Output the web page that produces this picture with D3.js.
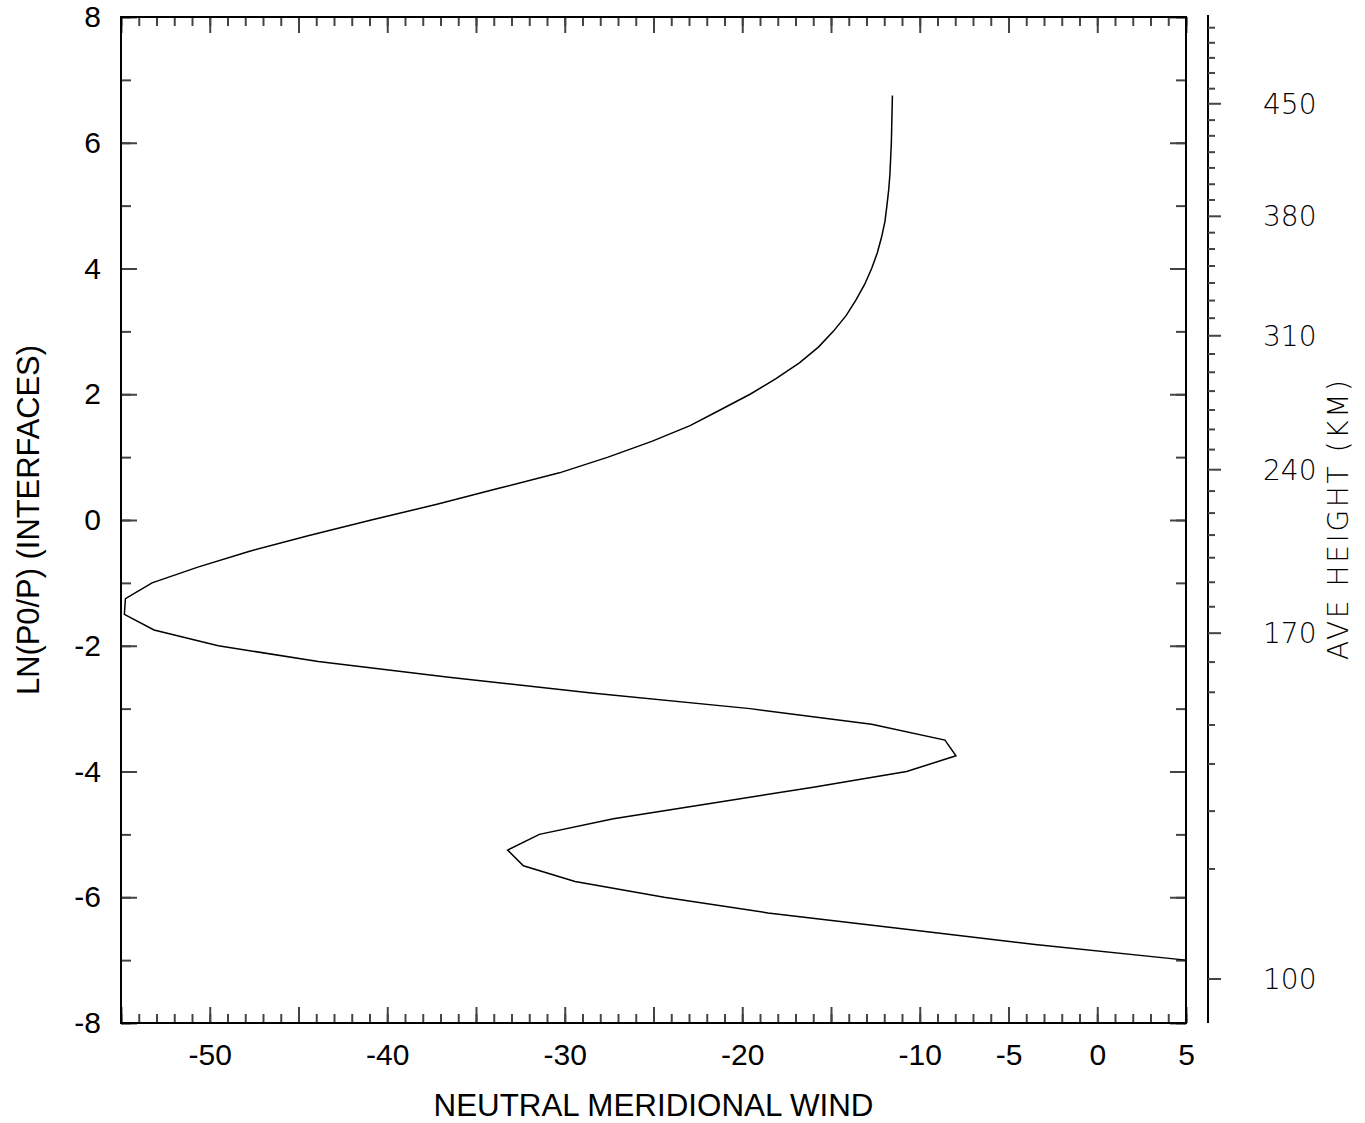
<!DOCTYPE html>
<html>
<head>
<meta charset="utf-8">
<script src="https://cdn.jsdelivr.net/npm/d3@7"></script>
<style>
  html, body { margin: 0; padding: 0; background: #fff; }
  svg { display: block; }
</style>
</head>
<body>
<svg id="chart" width="1365" height="1123"></svg>
<script>
// ---- data ----
const lnP = [-7.00,-6.75,-6.50,-6.25,-6.00,-5.75,-5.50,-5.25,-5.00,-4.75,-4.50,-4.25,-4.00,-3.75,-3.50,-3.25,
  -3.00,-2.75,-2.50,-2.25,-2.00,-1.75,-1.50,-1.25,-1.00,-0.75,-0.50,-0.25,0.00,0.25,0.50,0.75,
  1.00,1.25,1.50,1.75,2.00,2.25,2.50,2.75,3.00,3.25,3.50,3.75,4.00,4.25,4.50,4.75,
  5.00,5.25,5.50,5.75,6.00,6.25,6.50,6.75];
const windValues = [5.0,-3.5,-11.0,-18.55,-24.4,-29.42,-32.33,-33.22,-31.43,-27.26,-21.63,-16.0,-10.74,-7.96,-8.58,-12.71,
  -19.56,-28.49,-36.53,-43.89,-49.52,-53.14,-54.81,-54.75,-53.25,-50.67,-47.8,-44.46,-40.9,-37.2,-33.77,-30.3,
  -27.56,-25.1,-22.94,-21.25,-19.56,-18.1,-16.78,-15.71,-14.87,-14.15,-13.59,-13.1,-12.71,-12.39,-12.15,-11.96,
  -11.85,-11.75,-11.68,-11.64,-11.60,-11.58,-11.56,-11.54];

const xTickLabels = [-50,-40,-30,-20,-10,-5,0,5];
const xMinorTicks = d3.range(-55, 6, 1);
const xMajorTicks = d3.range(-55, 6, 5);
const yTickLabels = [-8,-6,-4,-2,0,2,4,6,8];
const yMinorTicks = d3.range(-8, 9, 1);

// right axis: average height (km) and its ln(p0/p) position
const heightTicks = [100,110,120,130,140,150,160,170,180,190,200,210,220,230,240,250,260,270,280,290,300,
  310,320,330,340,350,360,370,380,390,400,410,420,430,440,450,460,470,480,490,500];
const heightLnP = [-7.30,-5.55,-4.63,-3.88,-3.26,-2.74,-2.26,-1.80,-1.38,-0.99,-0.60,-0.24,0.11,0.46,0.80,1.12,1.44,1.75,2.05,2.35,2.64,
  2.93,3.21,3.49,3.77,4.04,4.31,4.57,4.83,5.09,5.34,5.60,5.85,6.11,6.36,6.62,6.86,7.11,7.35,7.59,7.83];
const heightLabels = [100,170,240,310,380,450];

const xTitle = "NEUTRAL MERIDIONAL WIND";
const yTitle = "LN(P0/P) (INTERFACES)";
const rTitle = "AVE HEIGHT (KM)";

// ---- layout ----
const L = 121, R = 1186, T = 17, B = 1023;
const svg = d3.select("#chart");
const x = d3.scaleLinear().domain([-55, 5]).range([L, R]);
const y = d3.scaleLinear().domain([-8, 8]).range([B, T]);

const sansFont = "'Liberation Sans', Arial, Helvetica, sans-serif";
const thinFont = "'DejaVu Sans', sans-serif";
const tickColor = "#444";
const fmt = d => String(d);

function styleTicks(g) {
  g.select(".domain").remove();
  g.selectAll(".tick line").attr("stroke", tickColor).attr("stroke-width", 2);
}

// bottom / top ticks
svg.append("g").attr("transform", `translate(0,${B})`)
  .call(d3.axisBottom(x).tickValues(xMinorTicks).tickSize(-9).tickFormat(""))
  .call(styleTicks);
svg.append("g").attr("transform", `translate(0,${B})`)
  .call(d3.axisBottom(x).tickValues(xMajorTicks).tickSize(-16).tickFormat(""))
  .call(styleTicks);
svg.append("g").attr("transform", `translate(0,${T})`)
  .call(d3.axisTop(x).tickValues(xMinorTicks).tickSize(-9).tickFormat(""))
  .call(styleTicks);
svg.append("g").attr("transform", `translate(0,${T})`)
  .call(d3.axisTop(x).tickValues(xMajorTicks).tickSize(-16).tickFormat(""))
  .call(styleTicks);

// left / right frame ticks
svg.append("g").attr("transform", `translate(${L},0)`)
  .call(d3.axisLeft(y).tickValues(yMinorTicks).tickSize(-10).tickFormat(""))
  .call(styleTicks);
svg.append("g").attr("transform", `translate(${L},0)`)
  .call(d3.axisLeft(y).tickValues(yTickLabels).tickSize(-16).tickFormat(""))
  .call(styleTicks);
svg.append("g").attr("transform", `translate(${R},0)`)
  .call(d3.axisRight(y).tickValues(yMinorTicks).tickSize(-10).tickFormat(""))
  .call(styleTicks);
svg.append("g").attr("transform", `translate(${R},0)`)
  .call(d3.axisRight(y).tickValues(yTickLabels).tickSize(-16).tickFormat(""))
  .call(styleTicks);

// tick labels
const xLab = svg.append("g").attr("transform", `translate(0,${B})`)
  .call(d3.axisBottom(x).tickValues(xTickLabels).tickSize(0).tickPadding(21).tickFormat(fmt));
xLab.select(".domain").remove();
xLab.selectAll("text").attr("font-family", sansFont).attr("font-size", 30).attr("fill", "#000");

const yLab = svg.append("g").attr("transform", `translate(${L},0)`)
  .call(d3.axisLeft(y).tickValues(yTickLabels).tickSize(0).tickPadding(20).tickFormat(fmt));
yLab.select(".domain").remove();
yLab.selectAll("text").attr("font-family", sansFont).attr("font-size", 30).attr("fill", "#000");

// frame
svg.append("rect").attr("x", L).attr("y", T).attr("width", R - L).attr("height", B - T)
  .attr("fill", "none").attr("stroke", "#000").attr("stroke-width", 2);

// curve
const line = d3.line().x((d, i) => x(windValues[i])).y(d => y(d));
svg.append("path").datum(lnP).attr("d", line)
  .attr("fill", "none").attr("stroke", "#000").attr("stroke-width", 1.5).attr("stroke-linejoin", "miter");

// right height axis
const HX = 1208;
const hPos = d3.scaleOrdinal().domain(heightTicks).range(heightLnP);
const hAxisG = svg.append("g").attr("transform", `translate(${HX},0)`);
hAxisG.append("line").attr("x1", 0).attr("x2", 0).attr("y1", y(8) - 2).attr("y2", y(-8))
  .attr("stroke", "#000").attr("stroke-width", 2);
hAxisG.selectAll("line.htick").data(heightTicks).enter().append("line")
  .attr("class", "htick")
  .attr("x1", 0)
  .attr("x2", d => heightLabels.includes(d) ? 13 : 7)
  .attr("y1", d => y(hPos(d))).attr("y2", d => y(hPos(d)))
  .attr("stroke", tickColor).attr("stroke-width", 2);
hAxisG.selectAll("text.hlab").data(heightLabels).enter().append("text")
  .attr("class", "hlab")
  .attr("x", 55).attr("y", d => y(hPos(d))).attr("dy", "0.36em")
  .attr("font-family", thinFont).attr("font-weight", 200).attr("font-size", 28)
  .attr("fill", "#000")
  .text(d => d);

// titles
svg.append("text").attr("x", (L + R) / 2).attr("y", 1116).attr("text-anchor", "middle")
  .attr("font-family", sansFont).attr("font-size", 31).attr("fill", "#000")
  .attr("textLength", 440).attr("lengthAdjust", "spacingAndGlyphs").text(xTitle);
svg.append("text").attr("transform", `translate(39,${(T + B) / 2}) rotate(-90)`).attr("text-anchor", "middle")
  .attr("font-family", sansFont).attr("font-size", 31).attr("fill", "#000")
  .attr("textLength", 350).attr("lengthAdjust", "spacingAndGlyphs").text(yTitle);
svg.append("text").attr("transform", `translate(1348,520) rotate(-90)`).attr("text-anchor", "middle")
  .attr("font-family", thinFont).attr("font-weight", 200).attr("font-size", 28)
  .attr("textLength", 280).attr("lengthAdjust", "spacing")
  .attr("fill", "#000").text(rTitle);
</script>
</body>
</html>
